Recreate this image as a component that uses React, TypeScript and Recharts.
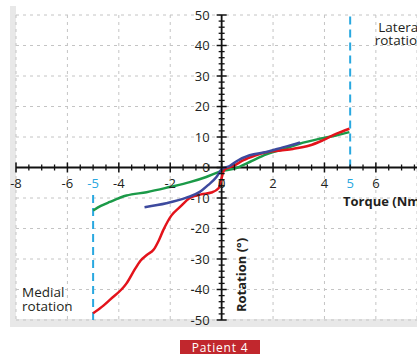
import React from 'react';
import { ComposedChart, Line, Scatter, XAxis, YAxis, CartesianGrid, ReferenceLine } from 'recharts';

// torque (Nm) vs rotation (deg)
const redData = [
  { x: -5, y: -47.8 }, { x: -4.6, y: -45.3 }, { x: -4.35, y: -43.4 }, { x: -3.7, y: -38 },
  { x: -3.35, y: -33 }, { x: -3.15, y: -30.5 }, { x: -2.9, y: -28.6 }, { x: -2.65, y: -27 },
  { x: -2.45, y: -24 }, { x: -2.28, y: -20.7 }, { x: -1.95, y: -15.7 }, { x: -1.63, y: -13 },
  { x: -1.24, y: -10 }, { x: -0.8, y: -8.8 }, { x: -0.4, y: -8.2 }, { x: -0.12, y: -6.8 },
  { x: 0, y: -3.4 }, { x: 0.1, y: -0.8 }, { x: 0.5, y: 0.7 }, { x: 0.85, y: 2.4 },
  { x: 1.3, y: 3.9 }, { x: 1.73, y: 5 }, { x: 2.3, y: 5.6 }, { x: 2.77, y: 6.1 },
  { x: 3.42, y: 7.2 }, { x: 3.93, y: 8.9 }, { x: 4.45, y: 11 }, { x: 4.97, y: 12.7 },
];

const greenData = [
  { x: -5, y: -14.1 }, { x: -4.7, y: -12.6 }, { x: -4.35, y: -11.3 }, { x: -3.7, y: -9.2 },
  { x: -2.92, y: -8.1 }, { x: -2.02, y: -6.4 }, { x: -1.24, y: -4.8 }, { x: -0.6, y: -3.1 },
  { x: -0.08, y: -1.4 }, { x: 0.57, y: -0.2 }, { x: 1.09, y: 1.8 }, { x: 1.74, y: 4.3 },
  { x: 2.4, y: 6 }, { x: 3.03, y: 7.8 }, { x: 3.8, y: 9.4 }, { x: 4.45, y: 10.5 }, { x: 4.97, y: 11.6 },
];

const blueData = [
  { x: -3, y: -13 }, { x: -2.15, y: -11.7 }, { x: -1.37, y: -9.9 }, { x: -0.85, y: -8 },
  { x: -0.53, y: -5.8 }, { x: -0.21, y: -3.2 }, { x: 0, y: -0.6 }, { x: 0.31, y: 0.5 },
  { x: 0.63, y: 2.3 }, { x: 1.09, y: 4 }, { x: 1.74, y: 5.1 }, { x: 2.38, y: 6.6 },
  { x: 2.9, y: 7.8 }, { x: 3.05, y: 8.2 },
];

const xMajorTicks = [-8, -6, -4, -2, 0, 2, 4, 6];
const xMinorTicks = [-7.5, -7, -6.5, -5.5, -5, -4.5, -3.5, -3, -2.5, -1.5, -1, -0.5,
  0.5, 1, 1.5, 2.5, 3, 3.5, 4.5, 5, 5.5, 6.5, 7, 7.5];
const xLimitTicks = [-5, 5];
const yMajorTicks = [-50, -40, -30, -20, -10, 0, 10, 20, 30, 40, 50];
const yMinorTicks = [-48, -46, -44, -42, -38, -36, -34, -32, -28, -26, -24, -22, -18, -16, -14, -12,
  -8, -6, -4, -2, 2, 4, 6, 8, 12, 14, 16, 18, 22, 24, 26, 28, 32, 34, 36, 38, 42, 44, 46, 48];

const FONT = '"Open Sans", sans-serif';
const INK = '#231f20';
const LIMIT = '#29a8e0';

const onX = (vals) => vals.map((v) => ({ x: v, y: 0 }));
const onY = (vals) => vals.map((v) => ({ x: 0, y: v }));

const XMajor = (p) => (
  <g>
    <line x1={p.cx} x2={p.cx} y1={p.cy - 5} y2={p.cy + 5} stroke="#111" strokeWidth={1.5} />
    <text x={p.cx} y={p.cy + 20} textAnchor="middle" fontSize={13} fontFamily={FONT} fill={INK}>
      {p.payload.x}
    </text>
  </g>
);
const XMinor = (p) => (
  <line x1={p.cx} x2={p.cx} y1={p.cy - 3} y2={p.cy + 3} stroke="#111" strokeWidth={1.3} />
);
const XLimit = (p) => (
  <text x={p.cx} y={p.cy + 20} textAnchor="middle" fontSize={13} fontFamily={FONT} fill={LIMIT}>
    {p.payload.x}
  </text>
);
const YMajor = (p) => (
  <g>
    <line x1={p.cx - 5} x2={p.cx + 5} y1={p.cy} y2={p.cy} stroke="#111" strokeWidth={1.5} />
    <text x={p.cx - 12} y={p.cy + 4.5} textAnchor="end" fontSize={13} fontFamily={FONT} fill={INK}>
      {p.payload.y}
    </text>
  </g>
);
const YMinor = (p) => (
  <line x1={p.cx - 3} x2={p.cx + 3} y1={p.cy} y2={p.cy} stroke="#111" strokeWidth={1.3} />
);

export default function App() {
  return (
    <div style={{ position: 'absolute', left: 0, top: 0, width: 417, height: 354, background: '#fff', overflow: 'hidden' }}>
      <div style={{ position: 'absolute', left: 10, top: 6, width: 407, height: 321, background: '#e8e8e8' }} />
      <div style={{ position: 'absolute', left: 16, top: 0, width: 401, height: 319, background: '#fff' }} />
      <div style={{ position: 'absolute', left: 0, top: 0 }}>
        <ComposedChart width={417} height={354} margin={{ top: 15, right: 0, bottom: 34, left: 16 }}>
          <XAxis type="number" dataKey="x" domain={[-8, 7.6]} ticks={xMajorTicks} hide />
          <YAxis type="number" dataKey="y" domain={[-50, 50]} ticks={yMajorTicks} hide />
          <CartesianGrid stroke="#c4c4c4" strokeDasharray="3 4" />
          <ReferenceLine segment={[{ x: -5, y: -50 }, { x: -5, y: -8.5 }]} stroke={LIMIT} strokeWidth={2} strokeDasharray="8 5" />
          <ReferenceLine segment={[{ x: 5, y: 0 }, { x: 5, y: 50 }]} stroke={LIMIT} strokeWidth={2} strokeDasharray="8 5" />
          <ReferenceLine y={0} stroke="#111" strokeWidth={1.8} />
          <ReferenceLine x={0} stroke="#111" strokeWidth={1.8} />
          <Scatter data={onX(xMinorTicks)} shape={XMinor} isAnimationActive={false} />
          <Scatter data={onX(xMajorTicks)} shape={XMajor} isAnimationActive={false} />
          <Scatter data={onX(xLimitTicks)} shape={XLimit} isAnimationActive={false} />
          <Scatter data={onY(yMinorTicks)} shape={YMinor} isAnimationActive={false} />
          <Scatter data={onY(yMajorTicks)} shape={YMajor} isAnimationActive={false} />
          <Line data={greenData} dataKey="y" type="monotone" stroke="#1b9a48" strokeWidth={2.5} dot={false} isAnimationActive={false} />
          <Line data={redData} dataKey="y" type="monotone" stroke="#e3131b" strokeWidth={2.5} dot={false} isAnimationActive={false} />
          <Line data={blueData} dataKey="y" type="monotone" stroke="#3d4a9e" strokeWidth={2.5} dot={false} isAnimationActive={false} />
        </ComposedChart>
      </div>
      <svg width={417} height={354} style={{ position: 'absolute', left: 0, top: 0, pointerEvents: 'none' }}>
        <g fontFamily={FONT} fill={INK}>
          <text x={22} y={297} fontSize={13.5}>Medial</text>
          <text x={22} y={311} fontSize={13.5}>rotation</text>
          <text x={400} y={32} fontSize={13.5} textAnchor="middle">Lateral</text>
          <text x={400} y={45} fontSize={13.5} textAnchor="middle">rotation</text>
          <text x={343} y={206} fontSize={13} fontWeight="bold">Torque (Nm)</text>
          <text x={246} y={275} fontSize={13} fontWeight="bold" textAnchor="middle" transform="rotate(-90 246 275)">
            Rotation (°)
          </text>
        </g>
        <rect x={180} y={340} width={80} height={14} fill="#c1272d" />
        <text x={220} y={351.5} fontSize={12} fontFamily={FONT} fill="#fff" textAnchor="middle" letterSpacing={0.8}>
          Patient 4
        </text>
      </svg>
    </div>
  );
}
